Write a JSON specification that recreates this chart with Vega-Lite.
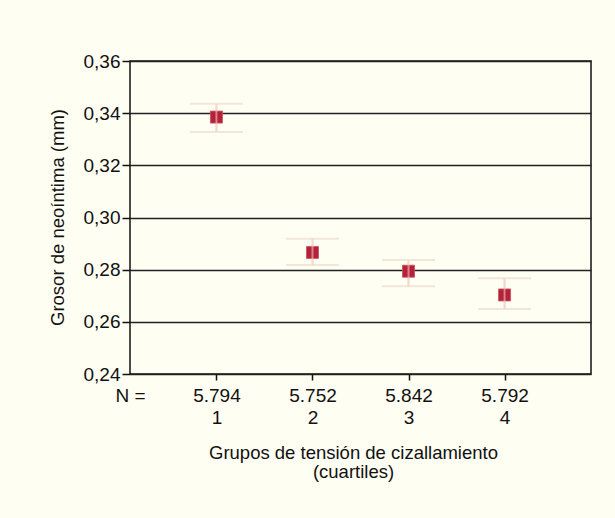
{
  "$schema": "https://vega.github.io/schema/vega-lite/v6.json",
  "autosize": "none",
  "width": 461,
  "height": 313,
  "padding": {"left": 130, "top": 61, "right": 24, "bottom": 144},
  "background": "#fffef2",
  "config": {
    "view": {"stroke": "#111111", "strokeWidth": 1.5, "fill": "#fffef2"},
    "font": "Liberation Sans"
  },
  "data": {
    "values": [
      {"cuartil": 1, "grosor": 0.3385, "lo": 0.3328, "hi": 0.3436},
      {"cuartil": 2, "grosor": 0.2866, "lo": 0.2818, "hi": 0.2919},
      {"cuartil": 3, "grosor": 0.2794, "lo": 0.2736, "hi": 0.2837},
      {"cuartil": 4, "grosor": 0.2703, "lo": 0.2649, "hi": 0.2767}
    ]
  },
  "encoding": {
    "x": {
      "field": "cuartil",
      "type": "quantitative",
      "scale": {"domain": [0.1, 4.9], "nice": false, "zero": false},
      "axis": {
        "values": [0.1, 1, 2, 3, 4],
        "labelExpr": "datum.value < 0.5 ? 'N =' : [['5.794','1'],['5.752','2'],['5.842','3'],['5.792','4']][datum.value - 1]",
        "labelFontSize": 19,
        "labelLineHeight": 22,
        "labelColor": "#111111",
        "labelOverlap": false,
        "labelBound": false,
        "labelFlush": false,
        "labelPadding": 6,
        "tickSize": 6,
        "tickColor": "#111111",
        "tickWidth": 1.5,
        "tickOpacity": {"condition": {"test": "datum.value < 0.5", "value": 0}, "value": 1},
        "domain": false,
        "grid": false,
        "title": ["Grupos de tensión de cizallamiento", "(cuartiles)"],
        "titleFontSize": 18.5,
        "titleFontWeight": "normal",
        "titleColor": "#111111",
        "titleLineHeight": 19,
        "titleX": 223,
        "titleY": 69,
        "titleBaseline": "top",
        "titleAlign": "center"
      }
    },
    "y": {
      "field": "grosor",
      "type": "quantitative",
      "scale": {"domain": [0.24, 0.36], "nice": false, "zero": false},
      "axis": {
        "values": [0.24, 0.26, 0.28, 0.3, 0.32, 0.34, 0.36],
        "labelExpr": "replace(format(datum.value, '.2f'), '.', ',')",
        "labelFontSize": 19,
        "labelColor": "#111111",
        "labelPadding": 2,
        "tickSize": 8,
        "tickColor": "#111111",
        "tickWidth": 1.5,
        "domain": false,
        "grid": true,
        "gridColor": "#222222",
        "gridWidth": 1.5,
        "title": "Grosor de neoíntima (mm)",
        "titleFontSize": 18.5,
        "titleFontWeight": "normal",
        "titleColor": "#111111",
        "titleAngle": -90,
        "titleX": -67,
        "titleY": 156,
        "titleAlign": "center",
        "titleBaseline": "alphabetic"
      }
    }
  },
  "layer": [
    {
      "mark": {"type": "rule", "color": "#ecdccd", "strokeWidth": 2},
      "encoding": {"y": {"field": "lo", "type": "quantitative"}, "y2": {"field": "hi"}}
    },
    {
      "mark": {"type": "tick", "orient": "horizontal", "color": "#ecdccd", "size": 53, "thickness": 2},
      "encoding": {"y": {"field": "lo", "type": "quantitative"}}
    },
    {
      "mark": {"type": "tick", "orient": "horizontal", "color": "#ecdccd", "size": 53, "thickness": 2},
      "encoding": {"y": {"field": "hi", "type": "quantitative"}}
    },
    {
      "mark": {"type": "square", "color": "#b5213a", "opacity": 1, "size": 144, "stroke": "#c8505e", "strokeWidth": 0.8}
    },
    {
      "mark": {"type": "rule", "color": "#f2d8cc", "strokeWidth": 2, "opacity": 0.55},
      "encoding": {"y": {"field": "lo", "type": "quantitative"}, "y2": {"field": "hi"}}
    }
  ]
}
